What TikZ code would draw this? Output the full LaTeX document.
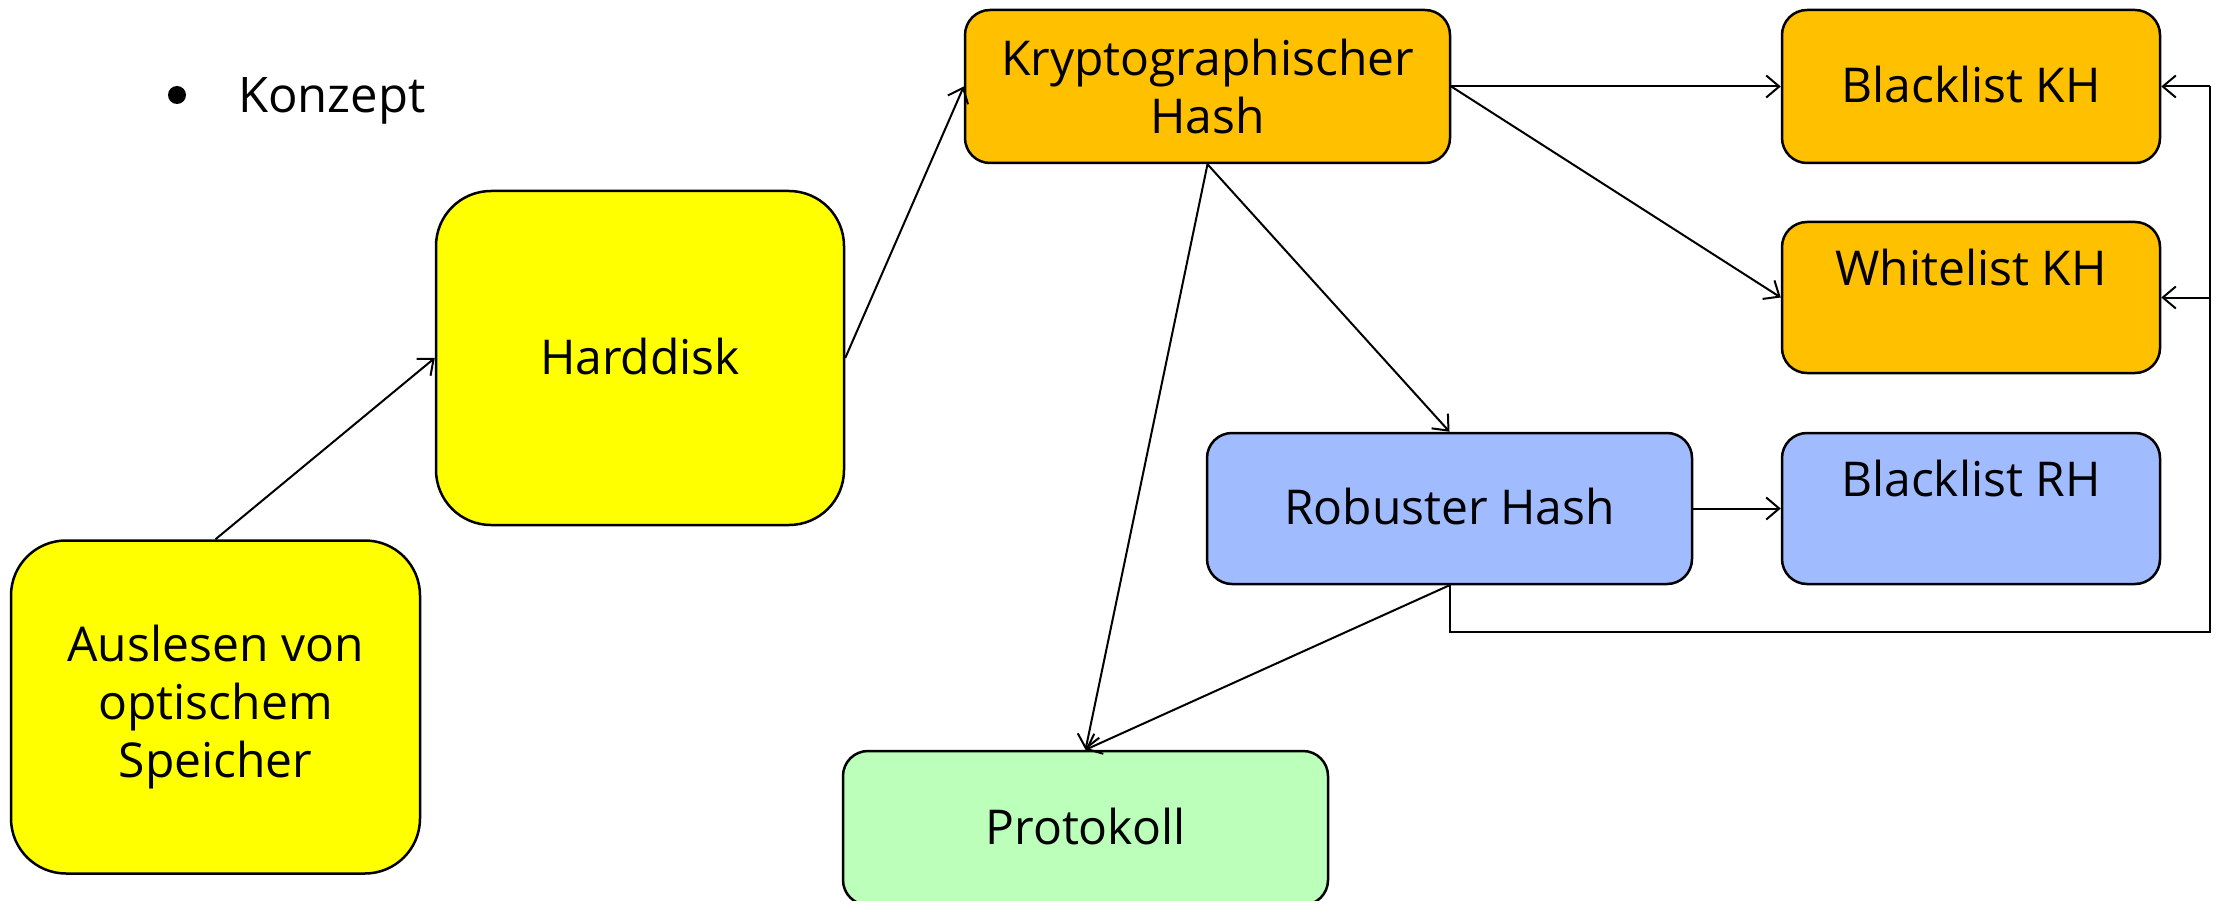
\documentclass[tikz,border=0pt]{standalone}
\usepackage{fontspec}
\setmainfont{Open Sans}
\usetikzlibrary{arrows.meta}

\definecolor{yel}{RGB}{255,255,0}
\definecolor{org}{RGB}{255,192,0}
\definecolor{blu}{RGB}{161,187,255}
\definecolor{grn}{RGB}{187,255,187}

\tikzset{
  box/.style={draw=black, line width=2.5pt, rectangle, align=center,
    font=\fontsize{48}{58}\selectfont, inner sep=0pt},
  oneline/.style={text height=44pt, text depth=12pt},
  bigbox/.style={box, rounded corners=55pt},
  smallbox/.style={box, rounded corners=25pt},
  wide/.style={minimum width=485pt},
  narrow/.style={minimum width=378pt},
  raised/.style={text height=44pt, text depth=68pt},
  link/.style={line width=2pt},
  conn/.style={link, -{Straight Barb[length=13pt,width=22pt]}},
}

\begin{document}
\begin{tikzpicture}[x=1pt, y=-1pt]
  \useasboundingbox (0,0) rectangle (2218,901);
  \clip (0,0) rectangle (2218,901);

  % heading
  \fill (177,95) circle (9pt);
  \node[anchor=base west, inner sep=0pt, font=\fontsize{49}{58}\selectfont] (title) at (238,113) {Konzept};

  % boxes
  \node[bigbox, fill=yel, minimum width=409pt, minimum height=333pt] (aus) at (215.5,707)
    {Auslesen von\\optischem\\Speicher};
  \node[bigbox, oneline, fill=yel, minimum width=408pt, minimum height=334pt] (hd) at (640,358) {Harddisk};
  \node[smallbox, wide, fill=org, minimum height=153pt] (kh) at (1207.5,86.5)
    {Kryptographischer\\Hash};
  \node[smallbox, oneline, narrow, fill=org, minimum height=153pt] (bkh) at (1971,86.5) {Blacklist KH};
  \node[smallbox, narrow, raised, fill=org, minimum height=151pt] (wkh) at (1971,297.5) {Whitelist KH};
  \node[smallbox, oneline, wide, fill=blu, minimum height=151pt] (rh) at (1449.5,508.5) {Robuster Hash};
  \node[smallbox, narrow, raised, fill=blu, minimum height=151pt] (brh) at (1971,508.5) {Blacklist RH};
  \node[smallbox, oneline, wide, fill=grn, minimum height=154pt] (prot) at (1085.5,828) {Protokoll};

  % connectors
  \draw[conn] (aus.north) -- (hd.west);
  \draw[conn] (hd.east) -- (kh.west);
  \draw[conn] (kh.east) -- (bkh.west);
  \draw[conn] (kh.east) -- (wkh.west);
  \draw[conn] (kh.south) -- (rh.north);
  \draw[conn] (kh.south) -- (prot.north);
  \draw[conn] (rh.south) -- (prot.north);
  \draw[conn] (rh.east) -- (brh.west);

  % feedback path to the lists
  \coordinate (fbdown) at (1449.5,632);
  \coordinate (fbcorner) at (2210,632);
  \coordinate (fbtop) at (2210,86.5);
  \coordinate (fbmid) at (2210,297.5);
  \draw[link] (rh.south) -- (fbdown) -- (fbcorner) -- (fbtop);
  \draw[conn] (fbtop) -- (bkh.east);
  \draw[conn] (fbmid) -- (wkh.east);
\end{tikzpicture}
\end{document}
